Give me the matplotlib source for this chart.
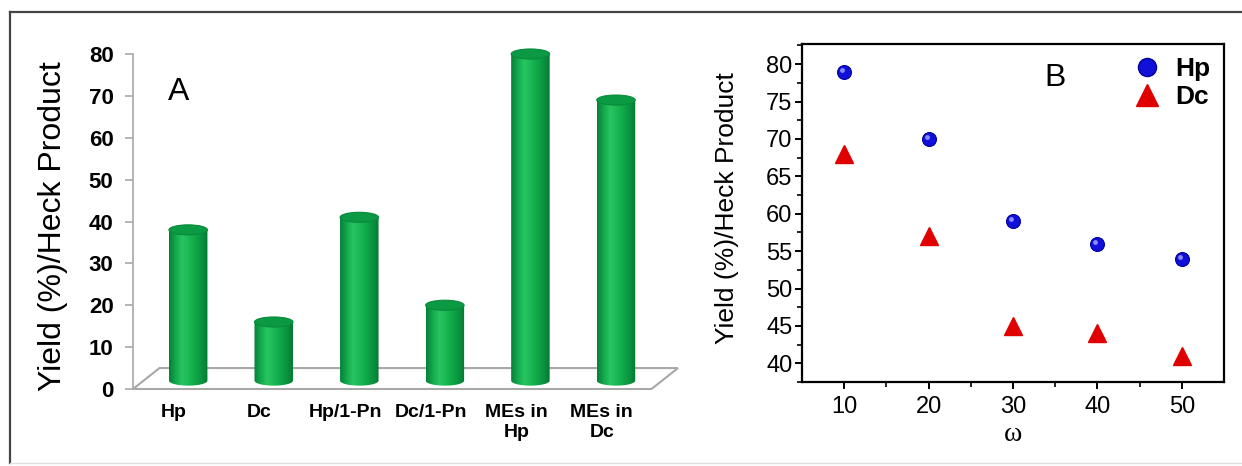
import numpy as np
import matplotlib
matplotlib.use('Agg')
import matplotlib.pyplot as plt
from matplotlib.patches import Ellipse, Polygon, PathPatch
from matplotlib.path import Path
from matplotlib.colors import LinearSegmentedColormap
from matplotlib.lines import Line2D
import matplotlib.transforms as mtransforms

# ---------------- data ----------------
categories = ["Hp", "Dc", "Hp/1-Pn", "Dc/1-Pn", "MEs in\nHp", "MEs in\nDc"]
yields_A = [38, 16, 41, 20, 80, 69]
omega = [10, 20, 30, 40, 50]
yield_Hp = [79, 70, 59, 56, 54]
yield_Dc = [68, 57, 45, 44, 41]
yticks_A = [0, 10, 20, 30, 40, 50, 60, 70, 80]
yticks_B = [40, 45, 50, 55, 60, 65, 70, 75, 80]

plt.rcParams['font.family'] = ['Liberation Sans', 'DejaVu Sans']

W, H = 1242, 466
fig = plt.figure(figsize=(W / 100, H / 100), dpi=100)
fig.patch.set_facecolor('white')


def fx(px):
    return px / W


def fy(py):
    return 1 - py / H


# outer frame
fig.add_artist(Line2D([fx(10), fx(1242)], [fy(12), fy(12)], color='#444444', lw=1.6))
fig.add_artist(Line2D([fx(10), fx(10)], [fy(12), fy(463)], color='#444444', lw=1.6))
fig.add_artist(Line2D([fx(10), fx(1242)], [fy(463), fy(463)], color='#e0e0e0', lw=1))

# ---------------- panel A ----------------
axA = fig.add_axes([fx(133), fy(389), fx(678) - fx(133), fy(54) - fy(389)])
axA.set_facecolor('none')
for s in ['top', 'right', 'bottom']:
    axA.spines[s].set_visible(False)
axA.spines['left'].set_color('#a8a8a8')
axA.spines['left'].set_linewidth(1.2)
axA.set_yticks(yticks_A)
axA.tick_params(axis='y', colors='#a8a8a8', labelcolor='black', labelsize=16,
                length=6, width=1.2, pad=8)
for lbl in axA.get_yticklabels():
    lbl.set_fontweight('bold')
x_pos = np.arange(len(categories))
axA.set_xticks(x_pos)
axA.set_xticklabels(categories, fontsize=14, fontweight='bold', linespacing=1.2)
axA.tick_params(axis='x', length=0, pad=11)

xlimA = (-0.48, 5.89)
ylimA = (0, 80)

# floor (3D base)
depth_dx, depth_dy = 0.31, 5.0
floor = Polygon([[xlimA[0], 0], [xlimA[0] + depth_dx, depth_dy],
                 [xlimA[1], depth_dy], [xlimA[1] - depth_dx, 0]],
                closed=True, facecolor='white', edgecolor='#a8a8a8', lw=1.5,
                zorder=1, clip_on=False)
axA.add_patch(floor)

cyl = LinearSegmentedColormap.from_list(
    'cyl', ['#07803a', '#12a84b', '#28c462', '#1cb956', '#10a847', '#0a9440', '#067a34'])
grad = np.linspace(0, 1, 200).reshape(1, -1)
bar_w = 0.45
cap_h = 2.4
bar_dx = 0.165
base_y = 2.0
for xi, v in zip(x_pos, yields_A):
    xc = xi + bar_dx
    x0, x1 = xc - bar_w / 2, xc + bar_w / 2
    t = np.linspace(np.pi, 2 * np.pi, 40)
    arc = np.column_stack([xc + bar_w / 2 * np.cos(t), base_y + cap_h / 2 * np.sin(t)])
    verts = np.vstack([[[x0, v]], arc, [[x1, v]], [[x0, v]]])
    codes = [Path.MOVETO] + [Path.LINETO] * (len(verts) - 2) + [Path.CLOSEPOLY]
    clip = PathPatch(Path(verts, codes), facecolor='none', edgecolor='none',
                     transform=axA.transData)
    axA.add_patch(clip)
    im = axA.imshow(grad, cmap=cyl, extent=[x0, x1, base_y - cap_h / 2, v],
                    aspect='auto', zorder=2, interpolation='bilinear')
    im.set_clip_path(clip)
    im.set_clip_on(True)
    cap = Ellipse((xc, v), bar_w, cap_h, facecolor='#0b9a43', edgecolor='#088a3a',
                  lw=0.8, zorder=3, clip_on=False)
    axA.add_patch(cap)

axA.set_xlim(*xlimA)
axA.set_ylim(*ylimA)
axA.text(0.083, 0.887, 'A', transform=axA.transAxes, fontsize=23, ha='center', va='center')

fig.text(fx(53), fy(226), 'Yield (%)/Heck Product', rotation=90, fontsize=23,
         ha='center', va='center')

# ---------------- panel B ----------------
axB = fig.add_axes([fx(802), fy(382), fx(1224) - fx(802), fy(44) - fy(382)])
axB.set_xlim(5, 55)
axB.set_ylim(37.7, 82.7)
for s in axB.spines.values():
    s.set_linewidth(1.6)
axB.set_xticks(omega)
axB.set_yticks(yticks_B)
axB.set_xticks(np.arange(15, 55, 10), minor=True)
axB.set_yticks(np.arange(37.5, 82.6, 2.5), minor=True)
axB.tick_params(axis='both', which='major', direction='out', length=5, width=1.4,
                labelsize=17, pad=2)
axB.tick_params(axis='both', which='minor', direction='out', length=3.5, width=1.2)
axB.tick_params(axis='x', which='major', pad=5)

# Hp spheres
axB.plot(omega, yield_Hp, linestyle='none', marker='o', markersize=10,
         markerfacecolor='#1010d8', markeredgecolor='#0000a0', markeredgewidth=0.8, zorder=3)
hl = mtransforms.offset_copy(axB.transData, fig=fig, x=-1.5, y=1.5, units='points')
axB.plot(omega, yield_Hp, linestyle='none', marker='o', markersize=3.5,
         markerfacecolor='#8a8aff', markeredgecolor='none', transform=hl, zorder=4)
# Dc triangles
axB.plot(omega, yield_Dc, linestyle='none', marker='^', markersize=13,
         markerfacecolor='#e00000', markeredgecolor='#e00000', zorder=3)

h_hp = Line2D([], [], linestyle='none', marker='o', markersize=13,
              markerfacecolor='#1010d8', markeredgecolor='#0000a0')
h_dc = Line2D([], [], linestyle='none', marker='^', markersize=16,
              markerfacecolor='#e00000', markeredgecolor='#e00000')
axB.legend([h_hp, h_dc], ['Hp', 'Dc'], loc='upper right', frameon=False,
           prop={'size': 19, 'weight': 'bold'}, handletextpad=0.5,
           labelspacing=0.15, borderaxespad=0.1, handlelength=1.2)

axB.text(0.6, 0.9, 'B', transform=axB.transAxes, fontsize=23, ha='center', va='center')
axB.set_xlabel('ω', family=['Liberation Serif', 'DejaVu Serif'], fontsize=20, labelpad=3)

fig.text(fx(727), fy(208), 'Yield (%)/Heck Product', rotation=90, fontsize=19,
         ha='center', va='center')

fig.savefig('out.png', dpi=100)
